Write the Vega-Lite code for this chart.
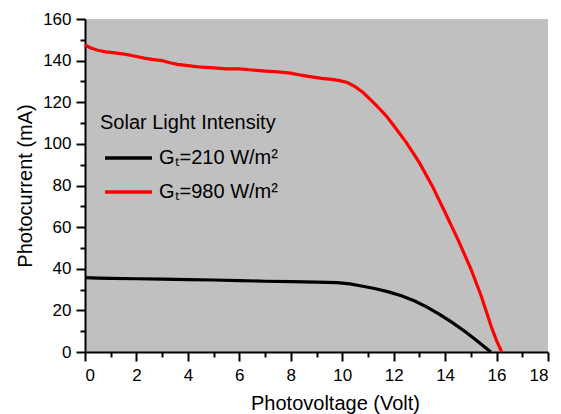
{
  "$schema": "https://vega.github.io/schema/vega-lite/v6.json",
  "width": 463,
  "height": 333,
  "autosize": {"type": "none"},
  "padding": {"left": 85, "top": 19, "right": 13, "bottom": 62},
  "background": "white",
  "config": {
    "view": {"fill": "#c0c0c0", "stroke": null},
    "font": "Liberation Sans"
  },
  "data": {
    "values": [
      {"series": "Gₜ=210 W/m²", "v": 0, "i": 35.7},
      {"series": "Gₜ=210 W/m²", "v": 0.5, "i": 35.5},
      {"series": "Gₜ=210 W/m²", "v": 1, "i": 35.4},
      {"series": "Gₜ=210 W/m²", "v": 2, "i": 35.2},
      {"series": "Gₜ=210 W/m²", "v": 3, "i": 35.0},
      {"series": "Gₜ=210 W/m²", "v": 4, "i": 34.8},
      {"series": "Gₜ=210 W/m²", "v": 5, "i": 34.6},
      {"series": "Gₜ=210 W/m²", "v": 6, "i": 34.3},
      {"series": "Gₜ=210 W/m²", "v": 7, "i": 34.0},
      {"series": "Gₜ=210 W/m²", "v": 8, "i": 33.8},
      {"series": "Gₜ=210 W/m²", "v": 9, "i": 33.6},
      {"series": "Gₜ=210 W/m²", "v": 9.8, "i": 33.3},
      {"series": "Gₜ=210 W/m²", "v": 10.3, "i": 32.7},
      {"series": "Gₜ=210 W/m²", "v": 10.8, "i": 31.6},
      {"series": "Gₜ=210 W/m²", "v": 11.3, "i": 30.4},
      {"series": "Gₜ=210 W/m²", "v": 11.8, "i": 28.9},
      {"series": "Gₜ=210 W/m²", "v": 12.3, "i": 27.0},
      {"series": "Gₜ=210 W/m²", "v": 12.8, "i": 24.6},
      {"series": "Gₜ=210 W/m²", "v": 13.3, "i": 21.6},
      {"series": "Gₜ=210 W/m²", "v": 13.8, "i": 18.0},
      {"series": "Gₜ=210 W/m²", "v": 14.3, "i": 14.0},
      {"series": "Gₜ=210 W/m²", "v": 14.8, "i": 9.6},
      {"series": "Gₜ=210 W/m²", "v": 15.2, "i": 5.8},
      {"series": "Gₜ=210 W/m²", "v": 15.5, "i": 2.8},
      {"series": "Gₜ=210 W/m²", "v": 15.78, "i": 0},
      {"series": "Gₜ=980 W/m²", "v": 0, "i": 147.5},
      {"series": "Gₜ=980 W/m²", "v": 0.2, "i": 146.2},
      {"series": "Gₜ=980 W/m²", "v": 0.5, "i": 145.0},
      {"series": "Gₜ=980 W/m²", "v": 0.8, "i": 144.2},
      {"series": "Gₜ=980 W/m²", "v": 1.0, "i": 144.0},
      {"series": "Gₜ=980 W/m²", "v": 1.3, "i": 143.5},
      {"series": "Gₜ=980 W/m²", "v": 1.6, "i": 143.0},
      {"series": "Gₜ=980 W/m²", "v": 2.0, "i": 142.0},
      {"series": "Gₜ=980 W/m²", "v": 2.3, "i": 141.2},
      {"series": "Gₜ=980 W/m²", "v": 2.6, "i": 140.6},
      {"series": "Gₜ=980 W/m²", "v": 3.0, "i": 140.0},
      {"series": "Gₜ=980 W/m²", "v": 3.3, "i": 139.0},
      {"series": "Gₜ=980 W/m²", "v": 3.6, "i": 138.2},
      {"series": "Gₜ=980 W/m²", "v": 4.0, "i": 137.6},
      {"series": "Gₜ=980 W/m²", "v": 4.4, "i": 137.0},
      {"series": "Gₜ=980 W/m²", "v": 5.0, "i": 136.5},
      {"series": "Gₜ=980 W/m²", "v": 5.5, "i": 136.0},
      {"series": "Gₜ=980 W/m²", "v": 6.0, "i": 136.0},
      {"series": "Gₜ=980 W/m²", "v": 6.5, "i": 135.5},
      {"series": "Gₜ=980 W/m²", "v": 7.0, "i": 135.0},
      {"series": "Gₜ=980 W/m²", "v": 7.5, "i": 134.6},
      {"series": "Gₜ=980 W/m²", "v": 8.0, "i": 134.0},
      {"series": "Gₜ=980 W/m²", "v": 8.4, "i": 133.0},
      {"series": "Gₜ=980 W/m²", "v": 8.8, "i": 132.2},
      {"series": "Gₜ=980 W/m²", "v": 9.2, "i": 131.5},
      {"series": "Gₜ=980 W/m²", "v": 9.6, "i": 131.0},
      {"series": "Gₜ=980 W/m²", "v": 9.9, "i": 130.4},
      {"series": "Gₜ=980 W/m²", "v": 10.2, "i": 129.5},
      {"series": "Gₜ=980 W/m²", "v": 10.5, "i": 127.5},
      {"series": "Gₜ=980 W/m²", "v": 10.8, "i": 124.8},
      {"series": "Gₜ=980 W/m²", "v": 11.1, "i": 121.3},
      {"series": "Gₜ=980 W/m²", "v": 11.4, "i": 117.5},
      {"series": "Gₜ=980 W/m²", "v": 11.7, "i": 113.6},
      {"series": "Gₜ=980 W/m²", "v": 12.0, "i": 108.8},
      {"series": "Gₜ=980 W/m²", "v": 12.5, "i": 100.5},
      {"series": "Gₜ=980 W/m²", "v": 13.0, "i": 91.0},
      {"series": "Gₜ=980 W/m²", "v": 13.5, "i": 79.8},
      {"series": "Gₜ=980 W/m²", "v": 14.0, "i": 67.0},
      {"series": "Gₜ=980 W/m²", "v": 14.5, "i": 54.0},
      {"series": "Gₜ=980 W/m²", "v": 15.0, "i": 40.0},
      {"series": "Gₜ=980 W/m²", "v": 15.4, "i": 27.0},
      {"series": "Gₜ=980 W/m²", "v": 15.8, "i": 12.0},
      {"series": "Gₜ=980 W/m²", "v": 16.0, "i": 5.5},
      {"series": "Gₜ=980 W/m²", "v": 16.2, "i": 0}
    ]
  },
  "layer": [
    {
      "mark": {"type": "line", "strokeOpacity": 0},
      "encoding": {
        "x": {
          "field": "v", "type": "quantitative",
          "scale": {"domain": [0, 18], "nice": false, "zero": false},
          "axis": {
            "orient": "bottom",
            "values": [1, 3, 5, 7, 9, 11, 13, 15, 17],
            "labels": false, "domain": false, "grid": false, "title": null,
            "tickSize": 5, "tickWidth": 2, "tickColor": "black"
          }
        },
        "y": {
          "field": "i", "type": "quantitative",
          "scale": {"domain": [0, 160], "nice": false},
          "axis": {
            "orient": "left",
            "values": [10, 30, 50, 70, 90, 110, 130, 150],
            "labels": false, "domain": false, "grid": false, "title": null,
            "tickSize": 5, "tickWidth": 2, "tickColor": "black"
          }
        }
      }
    },
    {
      "mark": {"type": "line", "strokeWidth": 3.2},
      "encoding": {
        "x": {
          "field": "v", "type": "quantitative",
          "scale": {"domain": [0, 18], "nice": false, "zero": false},
          "axis": {
            "orient": "bottom",
            "values": [0, 2, 4, 6, 8, 10, 12, 14, 16, 18],
            "grid": false,
            "title": "Photovoltage (Volt)",
            "titleFont": "Liberation Sans", "titleFontSize": 20, "titleFontWeight": "normal", "titleColor": "black",
            "titleX": 250, "titleAlign": "center", "titlePadding": 10,
            "labelFont": "Liberation Sans", "labelFontSize": 17, "labelColor": "black", "labelPadding": 6,
            "domainColor": "black", "domainWidth": 2,
            "tickSize": 9, "tickWidth": 2, "tickColor": "black"
          }
        },
        "y": {
          "field": "i", "type": "quantitative",
          "scale": {"domain": [0, 160], "nice": false},
          "axis": {
            "orient": "left",
            "values": [0, 20, 40, 60, 80, 100, 120, 140, 160],
            "grid": false,
            "title": "Photocurrent (mA)",
            "titleFont": "Liberation Sans", "titleFontSize": 20, "titleFontWeight": "normal", "titleColor": "black",
            "titlePadding": 7,
            "labelFont": "Liberation Sans", "labelFontSize": 17, "labelColor": "black", "labelPadding": 5,
            "domainColor": "black", "domainWidth": 2,
            "tickSize": 9, "tickWidth": 2, "tickColor": "black"
          }
        },
        "color": {
          "field": "series", "type": "nominal",
          "scale": {"domain": ["Gₜ=210 W/m²", "Gₜ=980 W/m²"], "range": ["#000000", "#ff0000"]},
          "legend": {
            "orient": "none", "legendX": 15, "legendY": 94,
            "title": "Solar Light Intensity",
            "titleFont": "Liberation Sans", "titleFontSize": 20, "titleFontWeight": "normal", "titleColor": "black",
            "titlePadding": 15,
            "labelFont": "Liberation Sans", "labelFontSize": 20, "labelColor": "black",
            "symbolType": "stroke", "symbolSize": 2209, "symbolStrokeWidth": 3.5,
            "clipHeight": 20, "rowPadding": 14, "labelOffset": 5, "symbolOffset": 3,
            "padding": 0
          }
        }
      }
    }
  ],
  "resolve": {"axis": {"x": "independent", "y": "independent"}}
}
